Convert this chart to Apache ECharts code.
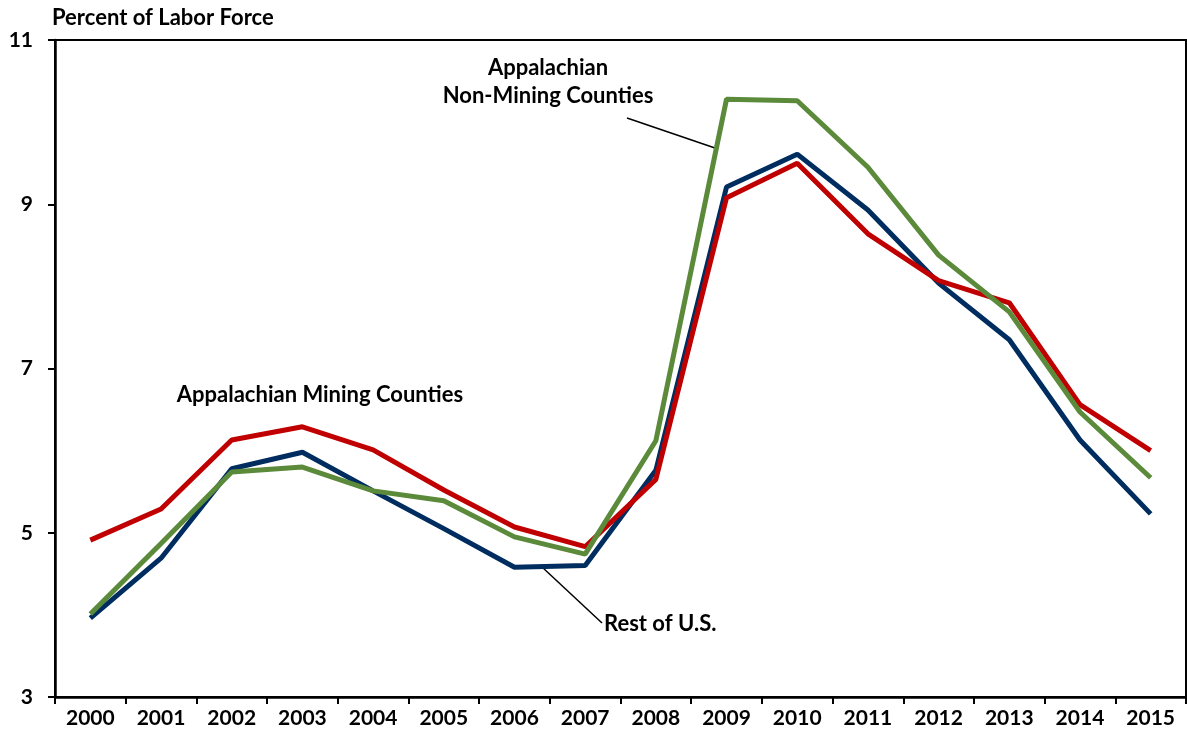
<!DOCTYPE html>
<html><head><meta charset="utf-8">
<script src="https://cdn.jsdelivr.net/npm/echarts@6/dist/echarts.min.js"></script>
<style>html,body{margin:0;padding:0;background:#fff}#c{width:1187px;height:740px}</style>
</head><body><div id="c"></div>
<script>
const years = ['2000','2001','2002','2003','2004','2005','2006','2007','2008','2009','2010','2011','2012','2013','2014','2015'];
const restOfUS = [3.96,4.69,5.78,5.98,5.51,5.05,4.58,4.60,5.76,9.21,9.61,8.93,8.04,7.35,6.13,5.23];
const miningCounties = [4.91,5.29,6.13,6.29,6.01,5.52,5.07,4.83,5.65,9.08,9.50,8.64,8.07,7.80,6.56,6.00];
const nonMiningCounties = [4.01,4.87,5.74,5.80,5.51,5.39,4.95,4.74,6.12,10.28,10.26,9.45,8.38,7.69,6.47,5.67];
const yTicks = [3,5,7,9,11];

const FONT = 'Lato, "Open Sans", sans-serif';
const FS = 22;
const chart = echarts.init(document.getElementById('c'));
const note = (x,y,t,align) => ({type:'text', x:x, y:y, style:{text:t, font:'bold '+FS+'px '+FONT, fill:'#000', textAlign:align||'left', textVerticalAlign:'middle'}});
chart.setOption({
  animation:false,
  grid:{left:55,right:1,top:40,bottom:43,show:true,borderColor:'#000',borderWidth:2},
  xAxis:{type:'category',data:years,boundaryGap:true,
    axisLine:{lineStyle:{color:'#000',width:2.5}},
    axisTick:{show:true,alignWithLabel:false,inside:false,length:7,lineStyle:{color:'#000',width:2}},
    axisLabel:{color:'#000',fontFamily:FONT,fontWeight:'bold',fontSize:21,margin:11,interval:0},
    splitLine:{show:false}},
  yAxis:{type:'value',min:yTicks[0],max:yTicks[yTicks.length-1],interval:2,
    axisLine:{show:true,lineStyle:{color:'#000',width:2.5}},
    axisTick:{show:true,length:7,lineStyle:{color:'#000',width:2}},
    axisLabel:{color:'#000',fontFamily:FONT,fontWeight:'bold',fontSize:21,margin:22},
    splitLine:{show:false}},
  series:[
    {name:'Rest of U.S.',type:'line',data:restOfUS,symbol:'none',lineStyle:{color:'#002D5F',width:5},z:2},
    {name:'Appalachian Mining Counties',type:'line',data:miningCounties,symbol:'none',lineStyle:{color:'#C00000',width:5},z:3},
    {name:'Appalachian Non-Mining Counties',type:'line',data:nonMiningCounties,symbol:'none',lineStyle:{color:'#5B8A3A',width:5},z:4}
  ],
  graphic:[
    note(52,18,'Percent of Labor Force'),
    note(320,395,'Appalachian Mining Counties','center'),
    note(548,68,'Appalachian','center'),
    note(548,96,'Non-Mining Counties','center'),
    note(604,624,'Rest of U.S.'),
    {type:'line',shape:{x1:627,y1:118,x2:715,y2:148},style:{stroke:'#000',lineWidth:1.5}},
    {type:'line',shape:{x1:542,y1:567,x2:602,y2:623},style:{stroke:'#000',lineWidth:1.5}}
  ]
});
</script></body></html>
